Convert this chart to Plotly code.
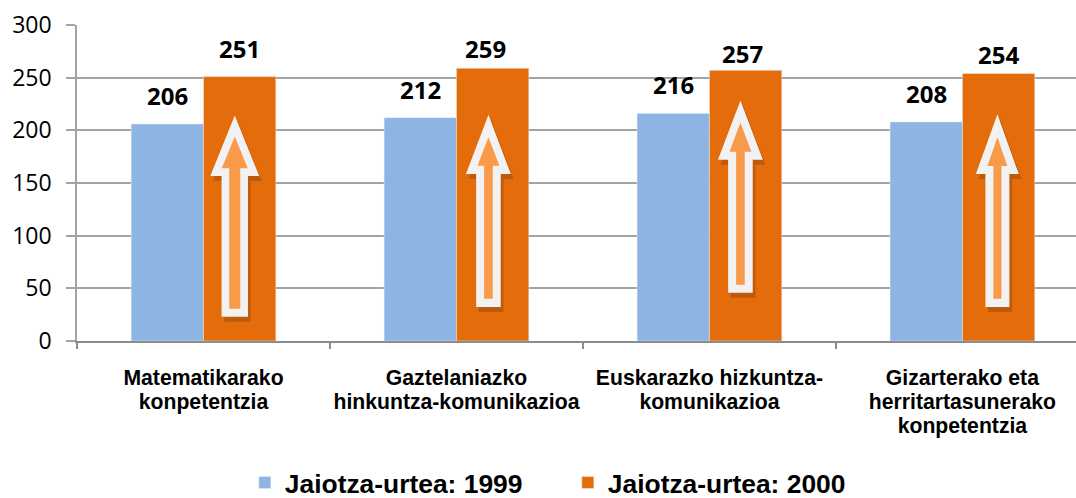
import plotly.graph_objects as go

categories = ["Matematikarako<br>konpetentzia",
              "Gaztelaniazko<br>hinkuntza-komunikazioa",
              "Euskarazko hizkuntza-<br>komunikazioa",
              "Gizarterako eta<br>herritartasunerako<br>konpetentzia"]
series_1999_name = "Jaiotza-urtea: 1999"
series_2000_name = "Jaiotza-urtea: 2000"
values_1999 = [206, 212, 216, 208]
values_2000 = [251, 259, 257, 254]
y_ticks = [0, 50, 100, 150, 200, 250, 300]

BLUE, ORANGE = "#8EB4E3", "#E46C0A"
GRID = "#A3A3A3"
PX_X = 253.1   # pixels per category
PX_Y = 1.056   # pixels per y unit
xpos = list(range(len(categories)))

def small(label):
    return "<br>".join(f'<span style="font-size:21.2px">{p}</span>' for p in label.split("<br>"))

fig = go.Figure()
fig.add_bar(x=xpos, y=values_1999, name=series_1999_name, marker_color=BLUE, hoverinfo="y")
fig.add_bar(x=xpos, y=values_2000, name=series_2000_name, marker_color=ORANGE, hoverinfo="y")

# data labels: (dx px, lift px) relative to bar top
lab_1999 = [(0, 28.5), (0, 28.5), (0, 28.5), (0, 28)]
lab_2000 = [(0, 28), (-7, 19.5), (-3.5, 16.6), (0, 18.8)]
for i in xpos:
    for vals, off, sgn in ((values_1999, lab_1999, -1), (values_2000, lab_2000, 1)):
        fig.add_annotation(x=i + sgn * 0.143, y=vals[i], text=f"<b>{vals[i]}</b>", showarrow=False,
                           xanchor="center", yanchor="middle", xshift=off[i][0], yshift=off[i][1],
                           font=dict(family="Open Sans", size=24, color="black"))

# decorative arrows: centre, tip/head/base heights, half widths (outer, inner)
arrow_specs = [
    (31.3, 115.0, 175.7, 316.7, 24.5, 13.2, 136.0, 167.7, 308.7, 13.0, 5.5),
    (32.0, 114.3, 173.7, 307.0, 22.5, 12.3, 136.7, 165.3, 298.7, 11.0, 4.3),
    (31.0, 100.0, 159.3, 292.7, 22.5, 12.3, 122.3, 151.3, 284.7, 11.0, 4.3),
    (35.0, 113.7, 173.7, 307.0, 21.5, 12.0, 136.7, 165.5, 298.7, 10.0, 4.0),
]

def arrow_path(i, cpx, tip, head, base, hw, sw, ox=0, oy=0):
    def X(dx):
        return i + (cpx + dx + ox) / PX_X
    def Y(py):
        return (341 - py - oy) / PX_Y
    pts = [(X(0), Y(tip)), (X(hw), Y(head)), (X(sw), Y(head)), (X(sw), Y(base)),
           (X(-sw), Y(base)), (X(-sw), Y(head)), (X(-hw), Y(head))]
    return "M" + "L".join(f"{a:.4f},{b:.3f}" for a, b in pts) + "Z"

for i, s in enumerate(arrow_specs):
    c, t, h, b, hw, sw, t2, h2, b2, hw2, sw2 = s
    for path, col in ((arrow_path(i, c, t, h, b, hw, sw, 2.7, 5), "#BD5A0C"),
                      (arrow_path(i, c, t, h, b, hw, sw), "#F2F2F2"),
                      (arrow_path(i, c, t2, h2, b2, hw2, sw2), "#F9994A")):
        fig.add_shape(type="path", path=path, xref="x", yref="y",
                      fillcolor=col, line_width=0, layer="above")

fig.update_layout(
    width=1076, height=498, paper_bgcolor="white", plot_bgcolor="white",
    margin=dict(l=77, r=0, t=24.5, b=157, autoexpand=False),
    barmode="group", bargap=0.428, bargroupgap=0,
    font=dict(family="Liberation Sans", color="black"),
    legend=dict(orientation="h", x=0.168, y=-0.449, xanchor="left", yanchor="middle",
                font=dict(family="Liberation Sans", size=26.4, weight="bold"),
                entrywidth=278, entrywidthmode="pixels", traceorder="normal"),
    xaxis=dict(range=[-0.5, 3.449], tickmode="array", tickvals=xpos,
               ticktext=[f"<b>{small(c)}</b>" for c in categories],
               tickfont=dict(family="Liberation Sans", size=18.5, color="black"),
               ticks="", ticklabelstandoff=20, showgrid=False, zeroline=False,
               showline=True, linecolor="#8C8C8C", linewidth=1.5,
               minor=dict(tickmode="array", tickvals=[-0.5, 0.5, 1.5, 2.5], ticks="outside",
                          ticklen=6, tickcolor="#8C8C8C", tickwidth=1.5, showgrid=False)),
    yaxis=dict(range=[0, 300], tickmode="array", tickvals=y_ticks,
               tickfont=dict(family="Open Sans", size=23, color="black"),
               ticks="outside", ticklen=9, tickcolor=GRID, tickwidth=1.5, ticklabelstandoff=10,
               gridcolor=GRID, gridwidth=1.5, zeroline=False,
               showline=True, linecolor=GRID, linewidth=1.5),
)
fig.write_html("out.html", config={"displayModeBar": False},
               post_script="document.body.style.margin='0';")
